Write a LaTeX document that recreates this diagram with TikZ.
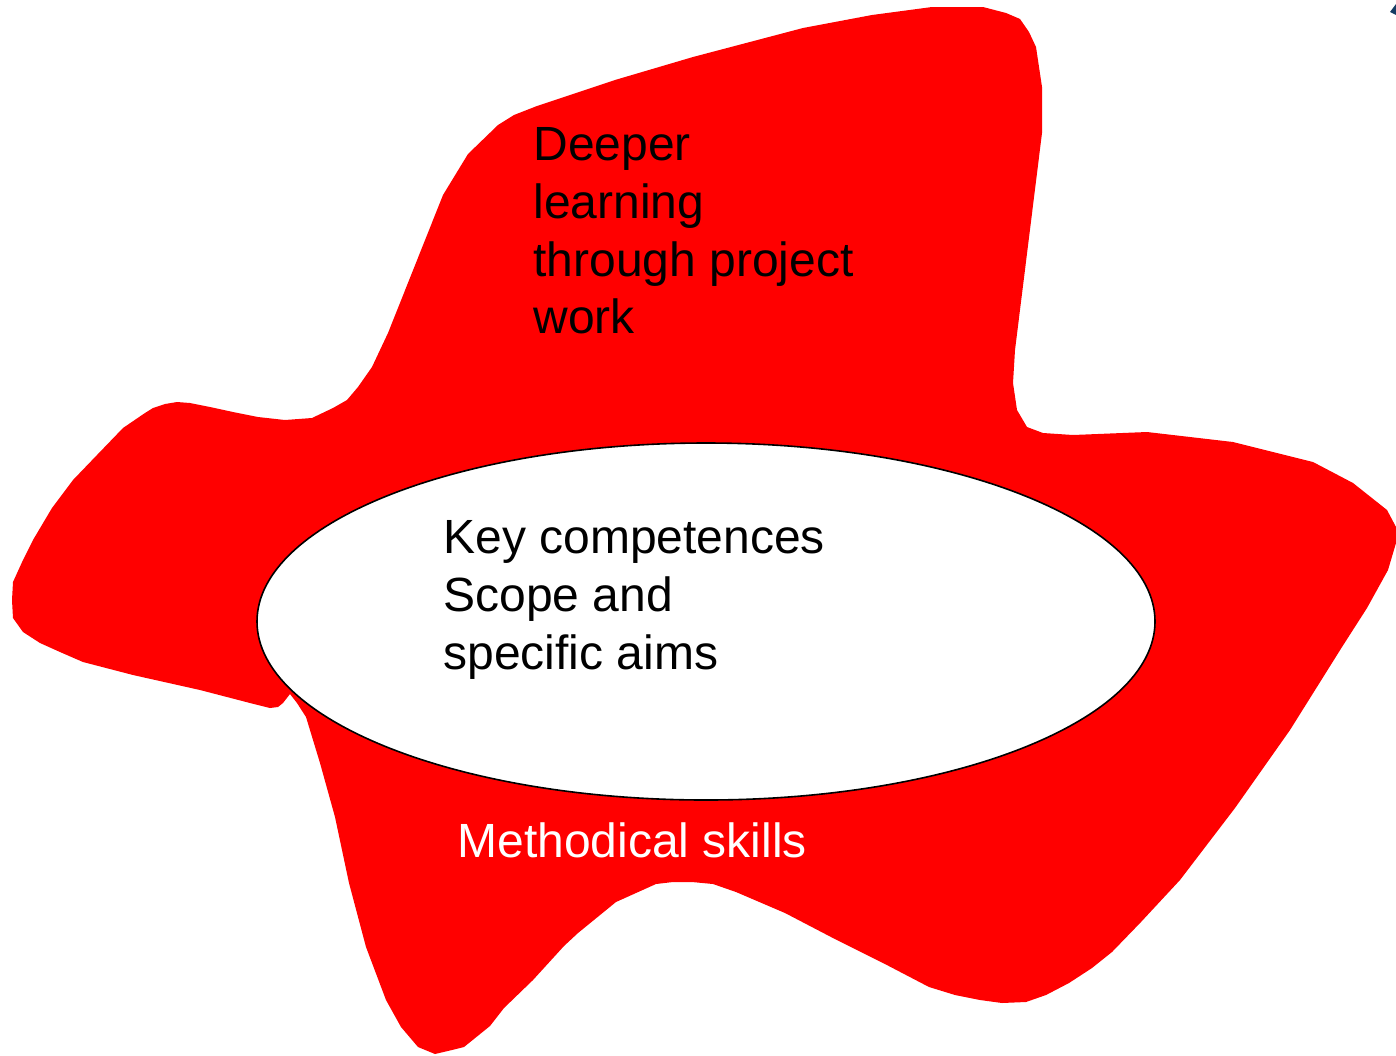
\documentclass[tikz,border=0pt]{standalone}
\usepackage{fontspec}
\usetikzlibrary{shapes.geometric}
\setmainfont{Liberation Sans}
\definecolor{blobred}{RGB}{255,0,0}
\definecolor{markblue}{RGB}{20,60,100}
\begin{document}
\begin{tikzpicture}[x=0.5pt,y=-0.5pt,
  lbl/.style={anchor=north west,inner sep=0pt,align=left,font=\fontsize{24}{28.9}\selectfont}]
\useasboundingbox (0,0) rectangle (1396,1055);
\fill[white] (0,0) rectangle (1396,1055);
% red blob
\fill[blobred] (290,694) -- (283,703) -- (278,707) -- (270,708) -- (250,703) -- (200,690) -- (133,675) -- (83,662) -- (60,652) -- (40,643) -- (23,632) -- (13,618) -- (12,600) -- (13,582) -- (23,560) -- (33,540) -- (52,508) -- (73,480) -- (97,455) -- (123,428) -- (145,413) -- (153,408) -- (165,404) -- (177,402) -- (190,403) -- (210,407) -- (233,412) -- (258,417) -- (285,420) -- (312,418) -- (333,408) -- (347,400) -- (358,387) -- (372,367) -- (388,333) -- (443,195) -- (468,154) -- (498,125) -- (514,115) -- (537,106) -- (615,80) -- (693,57) -- (803,28) -- (872,15) -- (932,7) -- (983,7) -- (1006,13) -- (1020,19) -- (1029,32) -- (1036,47) -- (1042,87) -- (1042,133) -- (1015,350) -- (1013,383) -- (1017,410) -- (1027,427) -- (1043,433) -- (1073,435) -- (1147,432) -- (1233,442) -- (1313,462) -- (1353,483) -- (1387,510) -- (1396,527) -- (1396,543) -- (1388,570) -- (1367,608) -- (1342,647) -- (1290,730) -- (1235,808) -- (1180,880) -- (1141,922) -- (1112,952) -- (1092,968) -- (1069,983) -- (1046,995) -- (1026,1002) -- (1002,1003) -- (980,1000) -- (955,995) -- (929,987) -- (883,963) -- (831,937) -- (785,913) -- (736,892) -- (713,884) -- (692,882) -- (673,882) -- (656,884) -- (636,893) -- (616,902) -- (578,933) -- (564,946) -- (533,980) -- (504,1008) -- (490,1026) -- (464,1047) -- (452,1050) -- (435,1054) -- (418,1047) -- (401,1027) -- (386,1000) -- (366,947) -- (349,883) -- (335,817) -- (320,763) -- (306,717) -- (297,703) -- cycle;
% small cut-off mark at top right
\fill[markblue] (1390,12) -- (1396,4) -- (1396,15) -- cycle;
% central ellipse
\node[draw=black,line width=0.8pt,fill=white,ellipse,inner sep=0pt,minimum width=449pt,minimum height=178.5pt] (core) at (706,621.5) {};
% labels
\node[lbl] (deeper) at (533,127) {Deeper\\learning\\through project\\work};
\node[lbl] (key) at (443,520) {Key competences\\Scope and\\specific aims};
\node[lbl,text=white] (meth) at (457,822) {Methodical skills};
\end{tikzpicture}
\end{document}
